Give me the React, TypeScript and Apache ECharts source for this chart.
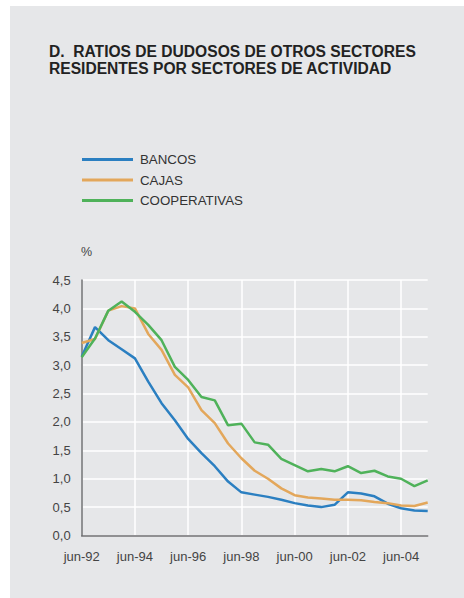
import React, { useEffect, useRef } from "react";
import * as echarts from "echarts";

const categories = [
  "jun-92", "dic-92", "jun-93", "dic-93", "jun-94", "dic-94", "jun-95", "dic-95",
  "jun-96", "dic-96", "jun-97", "dic-97", "jun-98", "dic-98", "jun-99", "dic-99",
  "jun-00", "dic-00", "jun-01", "dic-01", "jun-02", "dic-02", "jun-03", "dic-03",
  "jun-04", "dic-04", "jun-05",
];

const bancos = [
  3.15, 3.67, 3.44, 3.28, 3.12, 2.71, 2.33, 2.03,
  1.70, 1.45, 1.22, 0.95, 0.76, 0.72, 0.68, 0.63,
  0.57, 0.53, 0.50, 0.54, 0.76, 0.74, 0.69, 0.56,
  0.48, 0.44, 0.43,
];

const cajas = [
  3.39, 3.46, 3.96, 4.04, 4.00, 3.55, 3.27, 2.83,
  2.61, 2.21, 1.98, 1.62, 1.36, 1.14, 1.00, 0.83,
  0.71, 0.67, 0.65, 0.63, 0.63, 0.62, 0.59, 0.57,
  0.53, 0.52, 0.58,
];

const cooperativas = [
  3.14, 3.47, 3.96, 4.12, 3.94, 3.71, 3.44, 2.97,
  2.74, 2.44, 2.38, 1.94, 1.97, 1.64, 1.60, 1.35,
  1.24, 1.13, 1.17, 1.13, 1.22, 1.10, 1.14, 1.04,
  1.00, 0.87, 0.97,
];

const seriesNames = ["BANCOS", "CAJAS", "COOPERATIVAS"];
const colors = ["#2b7fc1", "#e3a75b", "#4fb25a"];

export default function App() {
  const ref = useRef<HTMLDivElement>(null);

  useEffect(() => {
    if (!ref.current) return;
    const chart = echarts.init(ref.current, null, { renderer: "svg" });
    const font = "'Liberation Sans', Arial, Helvetica, sans-serif";
    const dataSets = [bancos, cajas, cooperativas];
    chart.setOption({
      animation: false,
      backgroundColor: "#ffffff",
      color: colors,
      textStyle: { fontFamily: font },
      graphic: [
        {
          type: "rect",
          z: -10,
          silent: true,
          shape: { x: 10, y: 6, width: 454, height: 592 },
          style: { fill: "#e6e7e9" },
        },
        {
          type: "text",
          left: 49,
          top: 43,
          style: {
            text: "D.  RATIOS DE DUDOSOS DE OTROS SECTORES\nRESIDENTES POR SECTORES DE ACTIVIDAD",
            fontFamily: font,
            fontSize: 15.6,
            fontWeight: "bold",
            lineHeight: 16.8,
            fill: "#222222",
          },
        },
        {
          type: "text",
          left: 81,
          top: 245,
          style: {
            text: "%",
            fontFamily: font,
            fontSize: 12.5,
            fill: "#444444",
          },
        },
      ],
      legend: {
        orient: "vertical",
        left: 82,
        top: 153,
        padding: 0,
        itemWidth: 51,
        itemHeight: 3,
        itemGap: 7.5,
        itemStyle: { borderWidth: 0 },
        icon: "rect",
        textStyle: { fontFamily: font, fontSize: 13.3, color: "#333333", padding: [0, 0, 0, 2] },
        data: seriesNames,
      },
      grid: {
        left: 81.7,
        right: 36.3,
        top: 280,
        bottom: 62.5,
        containLabel: false,
      },
      xAxis: {
        type: "category",
        data: categories,
        boundaryGap: false,
        axisLine: { show: true, lineStyle: { color: "#6d6e70", width: 1.5 } },
        axisTick: { show: false },
        axisLabel: {
          interval: 3,
          margin: 14,
          fontFamily: font,
          fontSize: 13,
          color: "#444444",
        },
        splitLine: {
          show: true,
          interval: 3,
          lineStyle: { color: "#ffffff", width: 1.5 },
        },
      },
      yAxis: {
        type: "value",
        min: 0,
        max: 4.5,
        interval: 0.5,
        axisLine: { show: true, lineStyle: { color: "#6d6e70", width: 1.5 } },
        axisTick: { show: false },
        axisLabel: {
          margin: 11,
          fontFamily: font,
          fontSize: 13,
          color: "#444444",
          formatter: (v: number) => v.toFixed(1).replace(".", ","),
        },
        splitLine: {
          show: true,
          lineStyle: { color: "#ffffff", width: 1.5 },
        },
      },
      series: seriesNames.map((name, i) => ({
        name,
        type: "line",
        data: dataSets[i],
        symbol: "none",
        lineStyle: { width: 2.5, color: colors[i] },
        itemStyle: { color: colors[i] },
      })),
    });
    return () => chart.dispose();
  }, []);

  return (
    <div
      ref={ref}
      style={{ position: "fixed", left: 0, top: 0, width: 464, height: 598 }}
    />
  );
}
